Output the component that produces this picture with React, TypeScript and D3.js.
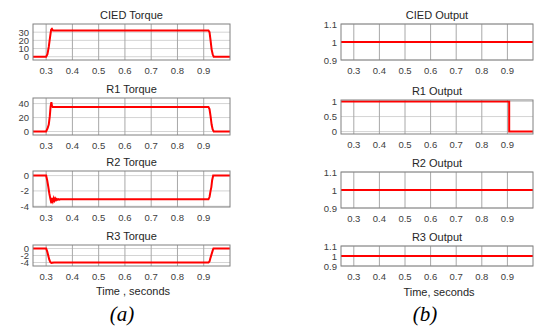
import * as d3 from 'd3';

// x ticks shared by every panel
const timeTicks = [0.3, 0.4, 0.5, 0.6, 0.7, 0.8, 0.9];

// CIED torque
const ciedTorqueT = [0.25, 0.3, 0.305, 0.31, 0.315, 0.319, 0.322, 0.326, 0.918, 0.922, 0.926, 0.93, 0.934, 0.938, 1.0];
const ciedTorqueV = [0, 0, 3, 12, 24, 33, 34, 32, 32, 30, 20, 9, 3, 0, 0];

// R1 torque
const r1TorqueT = [0.25, 0.3, 0.305, 0.31, 0.314, 0.317, 0.32, 0.322, 0.325, 0.918, 0.922, 0.926, 0.93, 0.934, 0.938, 1.0];
const r1TorqueV = [0, 0, 4, 10, 22, 36, 42, 37, 35, 35, 32, 22, 10, 3, 0, 0];

// R2 torque (ringing after the step)
const r2TorqueT = [0.25, 0.3, 0.304, 0.308, 0.312, 0.316, 0.32, 0.323, 0.326, 0.329, 0.332, 0.335, 0.338, 0.341, 0.344, 0.347, 0.35, 0.354, 0.358, 0.918, 0.922, 0.926, 0.929, 0.932, 0.936, 1.0];
const r2TorqueV = [0, 0, -0.6, -1.4, -2.3, -3.0, -3.6, -2.9, -3.3, -2.95, -3.25, -3.0, -3.2, -3.05, -3.15, -3.07, -3.13, -3.09, -3.1, -3.1, -2.8, -2.0, -1.5, -0.6, 0, 0];

// R3 torque
const r3TorqueT = [0.25, 0.3, 0.304, 0.308, 0.312, 0.316, 0.32, 0.33, 0.918, 0.922, 0.926, 0.93, 0.934, 0.937, 1.0];
const r3TorqueV = [0, 0, -0.8, -2.0, -3.2, -3.9, -4.1, -4.0, -4.0, -3.7, -2.6, -1.6, -0.6, 0, 0];

// outputs
const ciedOutT = [0.25, 1.0];
const ciedOutV = [1, 1];
const r1OutT = [0.25, 0.907, 0.907, 1.0];
const r1OutV = [1, 1, 0, 0];
const r2OutT = [0.25, 1.0];
const r2OutV = [1, 1];
const r3OutT = [0.25, 1.0];
const r3OutV = [1, 1];

const torqueTitles = ['CIED Torque', 'R1 Torque', 'R2 Torque', 'R3 Torque'];
const outputTitles = ['CIED Output', 'R1 Output', 'R2 Output', 'R3 Output'];

interface PanelProps {
  id: string;
  title: string;
  x0: number;
  x1: number;
  top: number;
  bottom: number;
  yDomain: [number, number];
  yTicks: number[];
  t: number[];
  v: number[];
}

const Panel = ({ id, title, x0, x1, top, bottom, yDomain, yTicks, t, v }: PanelProps) => {
  const x = d3.scaleLinear().domain([0.25, 1.0]).range([x0, x1]);
  const y = d3.scaleLinear().domain(yDomain).range([bottom, top]);
  const pts = t.map((tt, i) => [tt, v[i]] as [number, number]);
  const line = d3.line<[number, number]>().x(d => x(d[0])).y(d => y(d[1]));
  const fmt = (n: number) => String(n);

  return (
    <g>
      <defs>
        <clipPath id={id}>
          <rect x={x0} y={top - 1} width={x1 - x0} height={bottom - top + 2} />
        </clipPath>
      </defs>
      <rect x={x0} y={top} width={x1 - x0} height={bottom - top} fill="#fff" />
      {yTicks.map(tk => (
        <line key={'h' + tk} x1={x0} x2={x1} y1={y(tk)} y2={y(tk)} stroke="#d4d4d4" strokeWidth={1} />
      ))}
      {timeTicks.map(tk => (
        <line key={'v' + tk} x1={x(tk)} x2={x(tk)} y1={top} y2={bottom} stroke="#a8a8a8" strokeWidth={1} />
      ))}
      <path d={line(pts) || ''} fill="none" stroke="#ff0000" strokeWidth={2} clipPath={`url(#${id})`} />
      <rect x={x0} y={top} width={x1 - x0} height={bottom - top} fill="none" stroke="#808080" strokeWidth={1} />
      <text x={(x0 + x1) / 2} y={top - 5} textAnchor="middle" fontSize={11} fill="#262626">
        {title}
      </text>
      {yTicks.map(tk => (
        <text key={'yl' + tk} x={x0 - 4} y={y(tk) + 3.5} textAnchor="end" fontSize={9.5} fill="#404040">
          {fmt(tk)}
        </text>
      ))}
      {timeTicks.map(tk => (
        <text key={'xl' + tk} x={x(tk)} y={bottom + 14} textAnchor="middle" fontSize={9.5} fill="#404040">
          {fmt(tk)}
        </text>
      ))}
    </g>
  );
};

export default function App() {
  const L = { x0: 33, x1: 230 };
  const R = { x0: 341, x1: 533 };
  return (
    <svg width={534} height={326} style={{ display: 'block', position: 'absolute', left: 0, top: 0 }}
      fontFamily="'Liberation Sans', Arial, sans-serif">
      <rect width={534} height={326} fill="#fff" />

      <Panel id="c1" title={torqueTitles[0]} {...L} top={24} bottom={60} yDomain={[-4, 40]} yTicks={[0, 10, 20, 30]} t={ciedTorqueT} v={ciedTorqueV} />
      <Panel id="c2" title={torqueTitles[1]} {...L} top={98} bottom={135} yDomain={[-5, 48]} yTicks={[0, 20, 40]} t={r1TorqueT} v={r1TorqueV} />
      <Panel id="c3" title={torqueTitles[2]} {...L} top={171} bottom={207} yDomain={[-4.1, 0.6]} yTicks={[-4, -2, 0]} t={r2TorqueT} v={r2TorqueV} />
      <Panel id="c4" title={torqueTitles[3]} {...L} top={245} bottom={266} yDomain={[-5, 1]} yTicks={[-4, -2, 0]} t={r3TorqueT} v={r3TorqueV} />

      <Panel id="d1" title={outputTitles[0]} {...R} top={24} bottom={60} yDomain={[0.9, 1.1]} yTicks={[0.9, 1, 1.1]} t={ciedOutT} v={ciedOutV} />
      <Panel id="d2" title={outputTitles[1]} {...R} top={100} bottom={134} yDomain={[-0.08, 1.05]} yTicks={[0, 0.5, 1]} t={r1OutT} v={r1OutV} />
      <Panel id="d3" title={outputTitles[2]} {...R} top={172} bottom={208} yDomain={[0.9, 1.1]} yTicks={[0.9, 1, 1.1]} t={r2OutT} v={r2OutV} />
      <Panel id="d4" title={outputTitles[3]} {...R} top={246} bottom={266} yDomain={[0.9, 1.1]} yTicks={[0.9, 1, 1.1]} t={r3OutT} v={r3OutV} />

      <text x={133} y={295} textAnchor="middle" fontSize={11} fill="#262626">Time , seconds</text>
      <text x={439} y={296} textAnchor="middle" fontSize={11} fill="#262626">Time, seconds</text>

      <text x={122} y={321} textAnchor="middle" fontSize={21} fontStyle="italic" fontFamily="'Liberation Serif', 'Times New Roman', serif" fill="#000">(a)</text>
      <text x={425} y={321} textAnchor="middle" fontSize={21} fontStyle="italic" fontFamily="'Liberation Serif', 'Times New Roman', serif" fill="#000">(b)</text>
    </svg>
  );
}
